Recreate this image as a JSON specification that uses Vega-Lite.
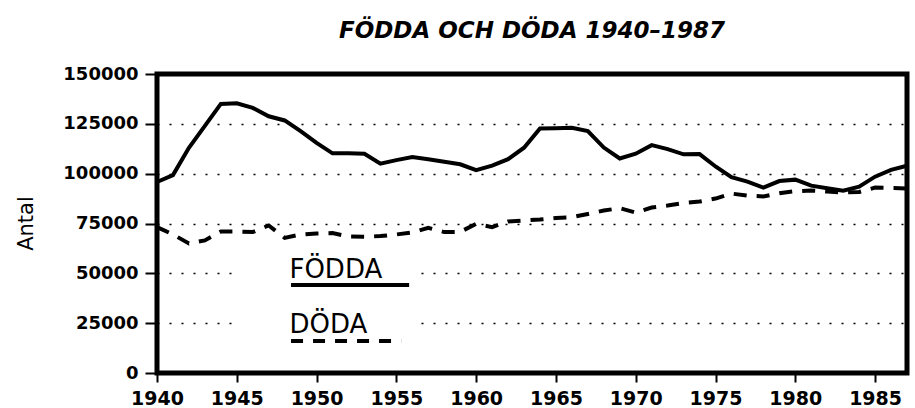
{
  "$schema": "https://vega.github.io/schema/vega-lite/v6.json",
  "width": 750,
  "height": 299,
  "autosize": "none",
  "padding": {"left": 157, "top": 74, "right": 8, "bottom": 35},
  "background": "white",
  "title": {
    "text": "FÖDDA OCH DÖDA 1940–1987",
    "font": "DejaVu Sans",
    "fontSize": 23,
    "fontStyle": "italic",
    "fontWeight": "bold",
    "color": "black",
    "anchor": "middle",
    "offset": 22
  },
  "config": {
    "view": {"stroke": "black", "strokeWidth": 5},
    "axis": {
      "labelFont": "DejaVu Sans",
      "labelFontWeight": "bold",
      "labelColor": "black",
      "labelFlush": false,
      "labelOverlap": false,
      "tickColor": "black",
      "tickWidth": 2,
      "domain": false
    }
  },
  "datasets": {
    "series": [
      {"year": 1940, "fodda": 95800, "doda": 73200},
      {"year": 1941, "fodda": 99300, "doda": 69500},
      {"year": 1942, "fodda": 113000, "doda": 65000},
      {"year": 1943, "fodda": 124000, "doda": 66500},
      {"year": 1944, "fodda": 135000, "doda": 71000},
      {"year": 1945, "fodda": 135300, "doda": 71000},
      {"year": 1946, "fodda": 133000, "doda": 70700},
      {"year": 1947, "fodda": 128800, "doda": 74000},
      {"year": 1948, "fodda": 126700, "doda": 67800},
      {"year": 1949, "fodda": 121300, "doda": 69500},
      {"year": 1950, "fodda": 115400, "doda": 70000},
      {"year": 1951, "fodda": 110200, "doda": 70200},
      {"year": 1952, "fodda": 110200, "doda": 68500},
      {"year": 1953, "fodda": 110000, "doda": 68300},
      {"year": 1954, "fodda": 105000, "doda": 68700},
      {"year": 1955, "fodda": 106800, "doda": 69500},
      {"year": 1956, "fodda": 108300, "doda": 70500},
      {"year": 1957, "fodda": 107200, "doda": 72800},
      {"year": 1958, "fodda": 106000, "doda": 70700},
      {"year": 1959, "fodda": 104700, "doda": 70800},
      {"year": 1960, "fodda": 101800, "doda": 74800},
      {"year": 1961, "fodda": 104000, "doda": 73200},
      {"year": 1962, "fodda": 107300, "doda": 76000},
      {"year": 1963, "fodda": 113000, "doda": 76500},
      {"year": 1964, "fodda": 122700, "doda": 77000},
      {"year": 1965, "fodda": 122800, "doda": 77800},
      {"year": 1966, "fodda": 123000, "doda": 78200},
      {"year": 1967, "fodda": 121400, "doda": 79800},
      {"year": 1968, "fodda": 113100, "doda": 81500},
      {"year": 1969, "fodda": 107600, "doda": 82700},
      {"year": 1970, "fodda": 110000, "doda": 80500},
      {"year": 1971, "fodda": 114300, "doda": 83000},
      {"year": 1972, "fodda": 112300, "doda": 84000},
      {"year": 1973, "fodda": 109700, "doda": 85300},
      {"year": 1974, "fodda": 109800, "doda": 86000},
      {"year": 1975, "fodda": 103600, "doda": 87500},
      {"year": 1976, "fodda": 98300, "doda": 90000},
      {"year": 1977, "fodda": 96000, "doda": 89000},
      {"year": 1978, "fodda": 93000, "doda": 88600},
      {"year": 1979, "fodda": 96300, "doda": 90200},
      {"year": 1980, "fodda": 97000, "doda": 91200},
      {"year": 1981, "fodda": 94000, "doda": 91500},
      {"year": 1982, "fodda": 92700, "doda": 91000},
      {"year": 1983, "fodda": 91500, "doda": 90600},
      {"year": 1984, "fodda": 93500, "doda": 90800},
      {"year": 1985, "fodda": 98500, "doda": 93000},
      {"year": 1986, "fodda": 101900, "doda": 92800},
      {"year": 1987, "fodda": 104000, "doda": 92600}
    ],
    "one": [{}]
  },
  "layer": [
    {
      "data": {"name": "series"},
      "mark": {"type": "line", "color": "black", "strokeWidth": 4},
      "encoding": {
        "x": {
          "field": "year",
          "type": "quantitative",
          "scale": {"domain": [1940, 1987], "nice": false, "zero": false},
          "axis": {
            "title": null,
            "values": [1940, 1945, 1950, 1955, 1960, 1965, 1970, 1975, 1980, 1985],
            "format": "d",
            "labelFontSize": 19,
            "tickSize": 9,
            "labelPadding": 7,
            "grid": false
          }
        },
        "y": {
          "field": "fodda",
          "type": "quantitative",
          "scale": {"domain": [0, 150000], "nice": false},
          "axis": {
            "title": "Antal",
            "titleFont": "DejaVu Sans",
            "titleFontSize": 21,
            "titleFontWeight": "normal",
            "titleColor": "black",
            "titleAngle": 270,
            "titleAlign": "center",
            "titleBaseline": "middle",
            "titleX": -131,
            "titleY": 149,
            "values": [0, 25000, 50000, 75000, 100000, 125000, 150000],
            "format": "d",
            "labelFontSize": 18,
            "tickSize": 12,
            "labelPadding": 7,
            "grid": true,
            "gridColor": "black",
            "gridDash": [2, 10],
            "gridWidth": 1.5
          }
        }
      }
    },
    {
      "data": {"name": "series"},
      "mark": {"type": "line", "color": "black", "strokeWidth": 4, "strokeDash": [13, 10]},
      "encoding": {
        "x": {"field": "year", "type": "quantitative"},
        "y": {"field": "doda", "type": "quantitative"}
      }
    },
    {
      "data": {"name": "one"},
      "mark": {"type": "rect", "color": "white"},
      "encoding": {
        "x": {"datum": 1944.7},
        "x2": {"datum": 1956.3},
        "y": {"datum": 12000},
        "y2": {"datum": 62000}
      }
    },
    {
      "data": {"name": "one"},
      "mark": {"type": "text", "text": "FÖDDA", "font": "DejaVu Sans", "fontSize": 26, "align": "left", "baseline": "alphabetic", "color": "black"},
      "encoding": {"x": {"datum": 1948.3}, "y": {"datum": 47700}}
    },
    {
      "data": {"name": "one"},
      "mark": {"type": "text", "text": "DÖDA", "font": "DejaVu Sans", "fontSize": 26, "align": "left", "baseline": "alphabetic", "color": "black"},
      "encoding": {"x": {"datum": 1948.3}, "y": {"datum": 20000}}
    },
    {
      "data": {"name": "one"},
      "mark": {"type": "rule", "color": "black", "strokeWidth": 4},
      "encoding": {"x": {"datum": 1948.4}, "x2": {"datum": 1955.8}, "y": {"datum": 44200}}
    },
    {
      "data": {"name": "one"},
      "mark": {"type": "rule", "color": "black", "strokeWidth": 4, "strokeDash": [12, 10]},
      "encoding": {"x": {"datum": 1948.4}, "x2": {"datum": 1955.3}, "y": {"datum": 16000}}
    }
  ]
}
